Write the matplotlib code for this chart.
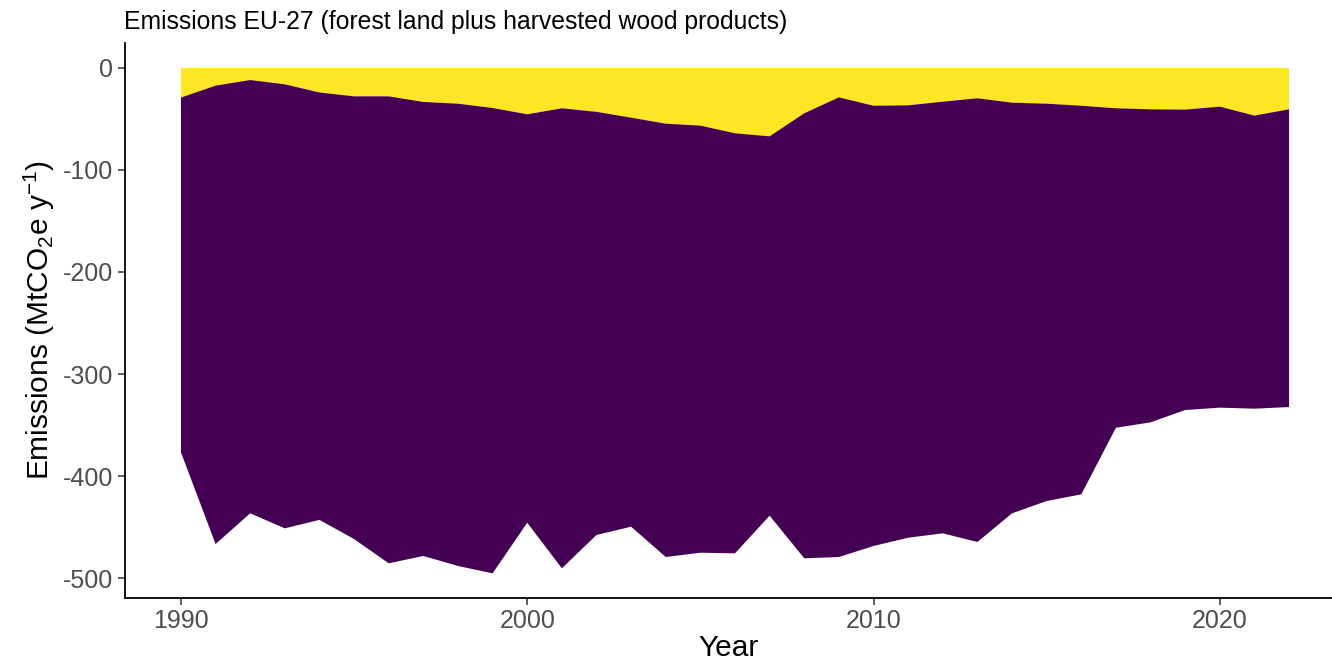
import numpy as np
import matplotlib
matplotlib.use("Agg")
import matplotlib.pyplot as plt

plt.rcParams["font.family"] = ["Liberation Sans", "DejaVu Sans"]
plt.rcParams["mathtext.default"] = "regular"
plt.rcParams["axes.unicode_minus"] = False

years = list(range(1990, 2023))

# harvested wood products sink (MtCO2e/yr)
hwp = [-29.0, -17.3, -11.8, -16.0, -24.0, -27.8, -27.8, -33.3, -35.0, -39.2,
       -45.4, -39.5, -43.0, -48.7, -54.6, -56.5, -64.0, -67.0, -44.4, -28.8,
       -37.0, -36.6, -33.0, -29.7, -34.0, -35.0, -37.0, -39.5, -40.5, -40.8,
       -37.9, -46.7, -40.5]

# forest land plus hwp total, used to get the forest land part
total = [-376.8, -466.7, -436.6, -451.3, -443.0, -461.8, -485.6, -478.4, -488.2, -495.4,
         -445.8, -490.5, -457.8, -449.7, -479.4, -475.2, -475.8, -438.9, -480.7, -479.4,
         -468.6, -460.5, -456.2, -464.7, -436.6, -424.5, -418.0, -352.7, -347.4, -335.3,
         -333.0, -334.0, -332.4]

forest = [t - h for t, h in zip(total, hwp)]

fig = plt.figure(figsize=(13.32, 6.63), dpi=100)
ax = fig.add_axes([124.5 / 1332, 65 / 663, 1207.5 / 1332, 555 / 663])

ax.stackplot(years, hwp, forest, colors=["#FDE725", "#440154"], linewidth=0)

ax.set_xlim(1988.37, 2023.24)
ax.set_ylim(-519.6, 24.5)
ax.set_xticks([1990, 2000, 2010, 2020])
ax.set_yticks([0, -100, -200, -300, -400, -500])

for side in ["top", "right"]:
    ax.spines[side].set_visible(False)
for side in ["left", "bottom"]:
    ax.spines[side].set_linewidth(1.3)
    ax.spines[side].set_color("black")

ax.tick_params(axis="both", labelsize=18, labelcolor="#4D4D4D", color="#333333",
               length=5, width=1.1, pad=3)

ax.set_xlabel("Year", fontsize=21.5, labelpad=1)
ax.set_ylabel(r"Emissions (MtCO$_2$e y$^{-1}$)", fontsize=21.5, labelpad=4)
ax.set_title("Emissions EU-27 (forest land plus harvested wood products)",
             fontsize=17.8, loc="left", pad=10)

fig.savefig("out.png", dpi=100)
